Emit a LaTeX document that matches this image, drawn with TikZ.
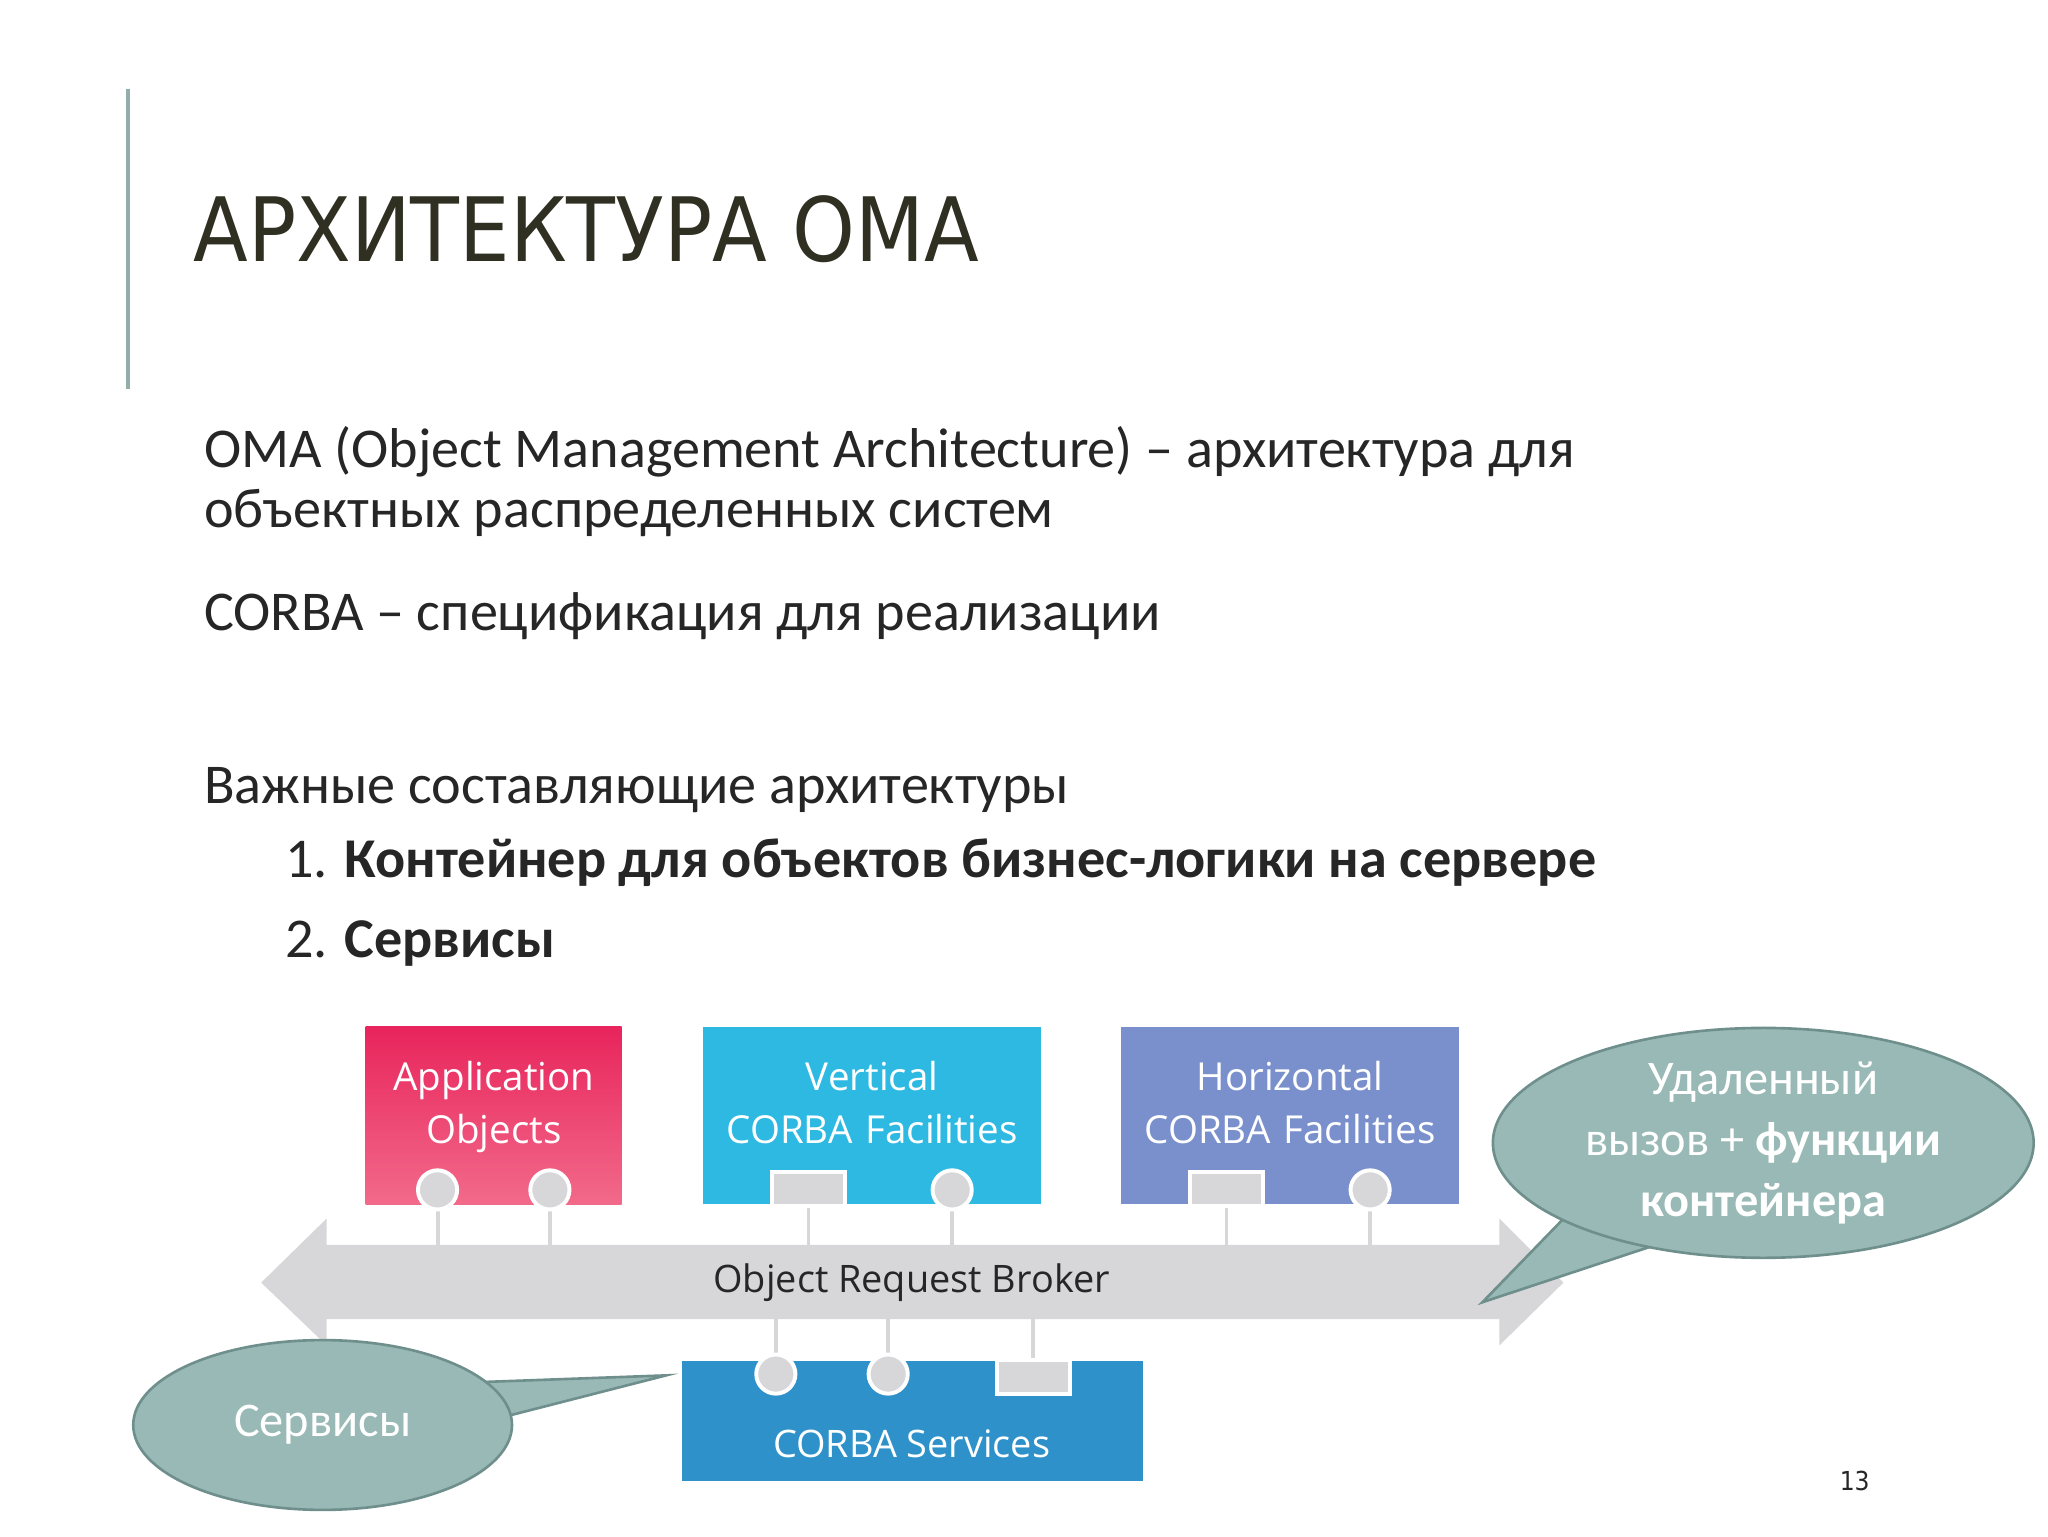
\documentclass[tikz,border=0pt]{standalone}
\usepackage{fontspec}
\setmainfont{Carlito}
\newfontfamily\titlefont{DejaVu Sans Condensed}
\newfontfamily\segoe{Open Sans}
\usetikzlibrary{shapes.geometric}
\definecolor{txt}{HTML}{262626}
\definecolor{callout}{HTML}{98B9B5}
\definecolor{calloutb}{HTML}{6E8F8B}
\definecolor{orb}{HTML}{D7D7D9}
\definecolor{appT}{HTML}{E8245C}
\definecolor{appB}{HTML}{F26A8A}
\definecolor{vertC}{HTML}{2DB9E1}
\definecolor{horC}{HTML}{7A90CC}
\definecolor{servC}{HTML}{2F91C9}
\tikzset{
  boxs/.style={anchor=north west,inner sep=0,text=white,align=center,font=\segoe\fontsize{29.5}{41}\selectfont},
  plug/.style={circle,fill=orb,draw=white,line width=3pt,minimum size=30pt,inner sep=0},
  sq/.style={fill=orb,draw=white,line width=3pt,minimum width=56pt,minimum height=26pt,inner sep=0},
  wire/.style={draw=orb,line width=3pt},
  body/.style={anchor=base west,inner sep=0,text=txt,font=\fontsize{43}{46}\selectfont}
}
\begin{document}
\begin{tikzpicture}[x=1pt,y=-1pt]
\useasboundingbox (0,0) rectangle (1568,1176);
\fill[white] (0,0) rectangle (1568,1176);
\draw[color=callout!80!gray,line width=3pt] (98,68) coordinate (v1) -- (98,298) coordinate (v2);
\node[anchor=base west,inner sep=0,text=txt!90!olive,font=\titlefont\fontsize{68}{80}\selectfont] (title) at (148,200) {АРХИТЕКТУРА OMA};
\node[body] (t1) at (156,358) {OMA (Object Management Architecture) – архитектура для};
\node[body] (t2) at (156,404) {объектных распределенных систем};
\node[body] (t3) at (156,483) {CORBA – спецификация для реализации};
\node[body] (t4) at (156,615) {Важные составляющие архитектуры};
\node[body] (t5) at (218,672) {1. \textbf{Контейнер для объектов бизнес-логики на сервере}};
\node[body] (t6) at (218,733) {2. \textbf{Сервисы}};
% ORB arrow
\fill[orb] (200,982) -- (250,933) -- (250,953) -- (1148,953) -- (1148,933) -- (1197,982) -- (1148,1030) -- (1148,1010) -- (250,1010) -- (250,1030) -- cycle;
\node[inner sep=0,text=txt,font=\segoe\fontsize{29}{30}\selectfont] (orb) at (698,982) {Object Request Broker};
% boxes
\shade[top color=appT,bottom color=appB] (280,786) rectangle (476,922);
\node[boxs,text width=196pt] (app) at (280,812) {Application\\Objects};
\fill[vertC] (538,786) rectangle (797,922);
\node[boxs,text width=259pt] (vert) at (538,812) {Vertical\\CORBA Facilities};
\fill[horC] (858,786) rectangle (1117,922);
\node[boxs,text width=259pt] (hor) at (858,812) {Horizontal\\CORBA Facilities};
\fill[servC] (522,1042) rectangle (875,1134);
\node[inner sep=0,text=white,font=\segoe\fontsize{29}{30}\selectfont] (serv) at (698,1105) {CORBA Services};
% plugs top
\foreach \n/\x in {a1/335,a2/421,v2/729,h2/1049}{
  \coordinate (\n b) at (\x,953);
  \draw[wire] (\x,911) -- (\n b);
  \node[plug] (\n) at (\x,911) {};}
\foreach \n/\x in {v1/619,h1/939}{
  \coordinate (\n b) at (\x,953);
  \draw[wire] (\x,910) -- (\n b);
  \node[sq] (\n) at (\x,910) {};}
% plugs bottom
\foreach \n/\x in {s1/594,s2/680}{
  \coordinate (\n t) at (\x,1010);
  \draw[wire] (\n t) -- (\x,1052);
  \node[plug] (\n) at (\x,1052) {};}
\coordinate (s3t) at (791,1010);
\draw[wire] (s3t) -- (791,1054);
\node[sq] (s3) at (791,1054) {};
% callouts
\coordinate (tipR) at (1135,997);
\coordinate (tipL) at (510,1053);
\filldraw[fill=callout,draw=calloutb,line width=2pt] (1200,930) -- (tipR) -- (1262,955) -- cycle;
\node[ellipse,fill=callout,draw=calloutb,line width=2pt,minimum width=414pt,minimum height=176pt,inner sep=0] (cr) at (1350,875) {};
\fill[callout] (1195,925) -- (1268,950) -- (1230,900) -- cycle;
\node[text=white,align=center,font=\fontsize{37}{47}\selectfont] at (cr) {Удаленный\\вызов + \textbf{функции}\\\textbf{контейнера}};
\filldraw[fill=callout,draw=calloutb,line width=2pt] (372,1058) -- (tipL) -- (385,1085) -- cycle;
\node[ellipse,fill=callout,draw=calloutb,line width=2pt,minimum width=290pt,minimum height=130pt,inner sep=0] (cl) at (247,1091) {};
\fill[callout] (360,1060) -- (390,1086) -- (340,1085) -- cycle;
\node[text=white,font=\fontsize{37}{40}\selectfont] at (cl) {Сервисы};
\node[text=txt,font=\titlefont\fontsize{20}{24}\selectfont] (pg) at (1420,1134) {13};
\end{tikzpicture}
\end{document}
